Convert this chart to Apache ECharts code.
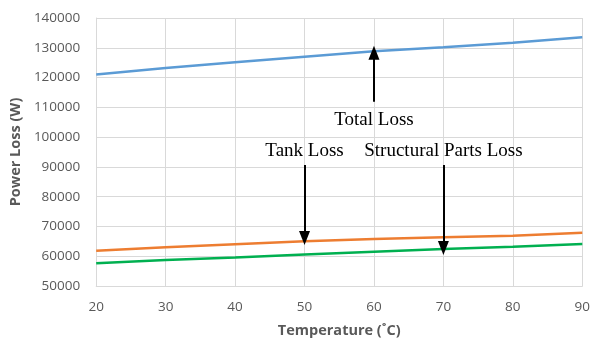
<!DOCTYPE html>
<html>
<head>
<meta charset="utf-8">
<script src="https://cdn.jsdelivr.net/npm/echarts@6/dist/echarts.min.js"></script>
<style>
  html, body { margin: 0; padding: 0; background: #fff; }
  #chart { width: 593px; height: 344px; }
</style>
</head>
<body>
<div id="chart"></div>
<script>
const temps = [20, 30, 40, 50, 60, 70, 80, 90]
const totalLoss = [121000, 123200, 125100, 127000, 128800, 130200, 131700, 133500]
const tankLoss = [61800, 63000, 64000, 65000, 65800, 66400, 66900, 67900]
const structLoss = [57600, 58700, 59600, 60600, 61500, 62400, 63200, 64100]

// annotation arrows: label, x, from y, to y
const noteLabels = ['Total Loss', 'Tank Loss', 'Structural Parts Loss']
const noteX = [60, 50, 70]
const noteFrom = [111900, 90600, 90600]
const noteTo = [128300, 66100, 62800]
const noteGap = [9, 5, 5]

const grey = '#595959'
const gridColor = '#d9d9d9'

function pairs(values) {
  return temps.map((t, i) => [t, values[i]])
}

function arrow(label, i) {
  return [
    {
      name: label,
      coord: [noteX[i], noteFrom[i]],
      symbol: 'none',
      label: { distance: noteGap[i] }
    },
    {
      coord: [noteX[i], noteTo[i]],
      symbol: 'triangle'
    }
  ]
}

const chart = echarts.init(document.getElementById('chart'))

chart.setOption({
  animation: false,
  grid: { left: 95, right: 8, top: 18, bottom: 58 },
  xAxis: {
    type: 'value',
    min: 20,
    max: 90,
    interval: 10,
    name: 'Temperature (˚C)',
    nameLocation: 'middle',
    nameGap: 37,
    nameTextStyle: { color: grey, fontFamily: 'Open Sans', fontWeight: 'bold', fontSize: 14.5 },
    axisLine: { lineStyle: { color: gridColor } },
    axisTick: { show: false },
    axisLabel: { color: grey, fontFamily: 'Open Sans', fontSize: 13.5, margin: 14 },
    splitLine: { lineStyle: { color: gridColor, width: 1 } }
  },
  yAxis: {
    type: 'value',
    min: 50000,
    max: 140000,
    interval: 10000,
    name: 'Power Loss (W)',
    nameLocation: 'middle',
    nameGap: 68,
    nameTextStyle: { color: grey, fontFamily: 'Open Sans', fontWeight: 'bold', fontSize: 14.5 },
    axisLine: { show: true, lineStyle: { color: gridColor } },
    axisTick: { show: false },
    axisLabel: {
      color: grey,
      fontFamily: 'Open Sans',
      fontSize: 13.5,
      margin: 16,
      formatter: (v) => String(v)
    },
    splitLine: { lineStyle: { color: gridColor, width: 1 } }
  },
  series: [
    {
      name: 'Total Loss',
      type: 'line',
      data: pairs(totalLoss),
      showSymbol: false,
      lineStyle: { color: '#5b9bd5', width: 2.5 },
      itemStyle: { color: '#5b9bd5' },
      markLine: {
        silent: true,
        symbolSize: [11, 14],
        lineStyle: { color: '#000', width: 2, type: 'solid' },
        label: {
          show: true,
          position: 'start',
          formatter: '{b}',
          color: '#000',
          fontFamily: 'Liberation Serif',
          fontSize: 19
        },
        data: noteLabels.map(arrow)
      }
    },
    {
      name: 'Tank Loss',
      type: 'line',
      data: pairs(tankLoss),
      showSymbol: false,
      lineStyle: { color: '#ed7d31', width: 2.5 },
      itemStyle: { color: '#ed7d31' }
    },
    {
      name: 'Structural Parts Loss',
      type: 'line',
      data: pairs(structLoss),
      showSymbol: false,
      lineStyle: { color: '#00b050', width: 2.5 },
      itemStyle: { color: '#00b050' }
    }
  ]
})
</script>
</body>
</html>
